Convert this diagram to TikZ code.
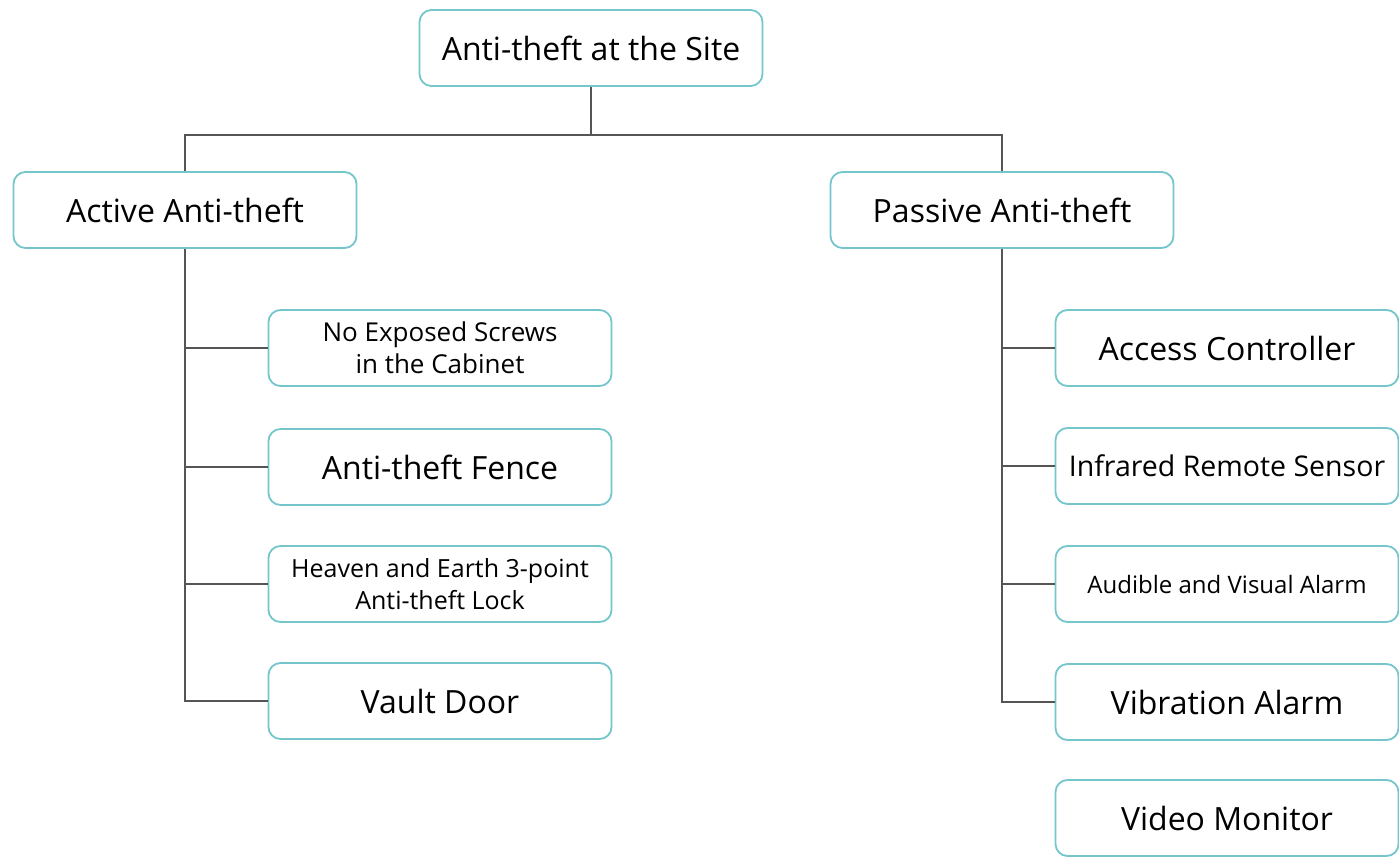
\documentclass[tikz,border=0pt]{standalone}
\usepackage{fontspec}
\setmainfont{Open Sans}
\usetikzlibrary{positioning}
\definecolor{boxteal}{HTML}{74C6CC}
\definecolor{linegray}{HTML}{555555}

\begin{document}
\begin{tikzpicture}[x=1pt, y=-1pt,
  box/.style={draw=boxteal, line width=1.8pt, rounded corners=12pt, fill=white,
    minimum width=343pt, minimum height=76pt, align=center,
    font=\fontsize{32}{38}\selectfont},
  small/.style={font=\fontsize{26}{32}\selectfont},
  item screws/.style={small},
  item lock/.style={font=\fontsize{25}{32}\selectfont},
  item sound/.style={font=\fontsize{24}{30}\selectfont},
  item infrared/.style={font=\fontsize{28.5}{34}\selectfont},
  link/.style={draw=linegray, line width=1.3pt}]

\useasboundingbox (0,0) rectangle (1399,859);

% Root and the two branches
\node [box] (site) at (591,48) {Anti-theft at the Site};
\node [box] (active) at (185,210) {Active Anti-theft};
\node [box] (passive) at (1002,210) {Passive Anti-theft};

% Active anti-theft measures
\foreach \m/\y/\t in {screws/348/{No Exposed Screws\\ in the Cabinet},
    fence/467/{Anti-theft Fence},
    lock/584/{Heaven and Earth 3-point\\ Anti-theft Lock},
    door/701/{Vault Door}}
  \node [box, item \m/.try] (active-\m) at (440,\y) {\t};

% Passive anti-theft measures
\foreach \m/\y/\t in {access/348/{Access Controller},
    infrared/466/{Infrared Remote Sensor},
    sound/584/{Audible and Visual Alarm},
    vibration/702/{Vibration Alarm},
    video/818/{Video Monitor}}
  \node [box, item \m/.try] (passive-\m) at (1227,\y) {\t};

% Root to branches
\draw [link] (site.south) -- ++(0,48) coordinate (bus);
\draw [link] (bus) -| (active.north);
\draw [link] (bus) -| (passive.north);

% Branches to measures
\draw [link] (active.south) |- (active-door.west);
\foreach \m in {screws,fence,lock}
  \draw [link] (active.south |- active-\m.west) -- (active-\m.west);

\draw [link] (passive.south) |- (passive-vibration.west);
\foreach \m in {access,infrared,sound}
  \draw [link] (passive.south |- passive-\m.west) -- (passive-\m.west);

\end{tikzpicture}
\end{document}
